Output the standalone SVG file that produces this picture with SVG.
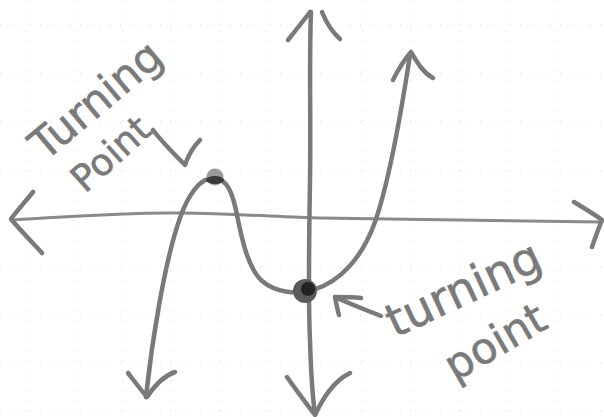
<svg xmlns="http://www.w3.org/2000/svg" width="604" height="417" viewBox="0 0 604 417">
  <style>
    .grid { stroke: #d6d6d6; stroke-width: 1; stroke-dasharray: 1 9; fill: none; }
    .pen { stroke: #7a7a7a; stroke-width: 4.5; fill: none; stroke-linecap: round; stroke-linejoin: round; }
    .thin { stroke: #8a8a8a; stroke-width: 3; fill: none; stroke-linecap: round; stroke-linejoin: round; }
    .lbl { font-family: "DejaVu Sans", "Liberation Sans", sans-serif; fill: #7a7a7a; stroke: #7a7a7a; stroke-width: 0.6; }
  </style>
  <rect width="604" height="417" fill="#ffffff"/>
  <g id="grid">
    <path class="grid" d="M0,25H604M0,74H604M0,122H604M0,171H604M0,267H604M0,315H604M0,363H604M0,411H604"/>
    <path class="grid" d="M27,0V417M75,0V417M123,0V417M171,0V417M219,0V417M267,0V417M363,0V417M411,0V417M459,0V417M507,0V417M555,0V417"/>
  </g>
  <g id="x-axis">
    <path class="thin" d="M12,220 C80,216 130,212 180,213 C240,214 280,217 320,218 C420,220 520,221 601,222"/>
    <path class="pen" d="M33,192 C25,202 16,212 11,219 C20,230 32,242 42,253"/>
    <path class="pen" d="M574,202 C584,208 594,214 602,220 C598,230 595,238 592,247"/>
  </g>
  <g id="y-axis">
    <path class="pen" d="M311,12 C309,60 311,120 310,180 C309,240 308,300 310,340 C311,375 313,400 315,414"/>
    <path class="pen" d="M288,40 C296,30 304,20 310,12"/>
    <path class="pen" d="M322,12 C326,22 332,32 340,39"/>
    <path class="pen" d="M287,377 C296,390 306,403 315,415 C322,400 332,382 350,373"/>
  </g>
  <g id="curve">
    <path class="pen" d="M146,397 C152,340 165,260 180,218 C188,195 200,178 213,178 C228,178 233,195 237,215 C242,240 248,268 262,281 C275,292 295,295 313,290 C340,282 362,258 375,222 C388,185 400,120 410,55"/>
    <path class="pen" d="M128,373 C135,382 141,390 147,397 C155,385 163,376 175,372"/>
    <path class="pen" d="M393,80 C398,70 404,60 411,52 C416,60 422,72 433,78"/>
  </g>
  <g id="turning-point-max">
    <circle cx="215" cy="177" r="8.5" fill="#9a9a9a"/>
    <ellipse cx="215" cy="180" rx="9" ry="4" fill="#3a3a3a"/>
  </g>
  <g id="turning-point-min">
    <circle cx="305" cy="291" r="12" fill="#5a5a5a"/>
    <circle cx="308" cy="289" r="7" fill="#222222"/>
  </g>
  <g id="label-top">
    <text class="lbl" font-size="43" transform="translate(45,162) rotate(-40)">Turning</text>
    <text class="lbl" font-size="37" transform="translate(85,194) rotate(-42)">Point</text>
    <path class="pen" d="M153,130 C162,142 175,155 185,165 C188,156 193,147 200,140"/>
  </g>
  <g id="label-bottom">
    <text class="lbl" font-size="46" transform="translate(395,338) rotate(-25)">turning</text>
    <text class="lbl" font-size="43" transform="translate(455,382) rotate(-30)">point</text>
    <path class="pen" d="M339,315 C337,308 336,302 335,297 C343,297 352,297 361,298"/>
    <path class="pen" d="M335,297 C350,304 366,310 381,316"/>
  </g>
</svg>
